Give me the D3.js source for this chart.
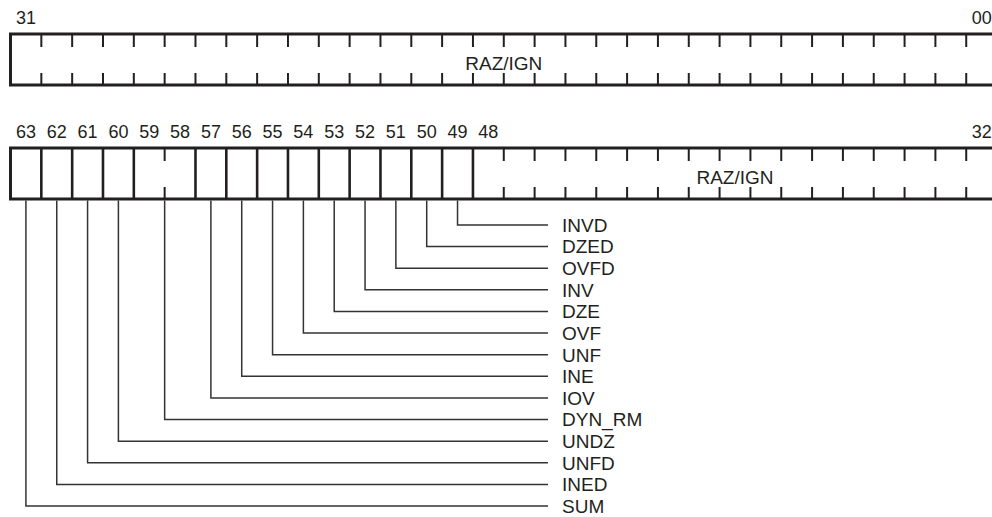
<!DOCTYPE html>
<html>
<head>
<meta charset="utf-8">
<script src="https://cdn.jsdelivr.net/npm/d3@7"></script>
<style>
  body { margin: 0; background: #fff; }
  text { font-family: "Liberation Sans", Arial, Helvetica, sans-serif; fill: #231f20; }
</style>
</head>
<body>
<svg id="reg" width="992" height="517"></svg>
<script>
// lower word, bits 31..0
let low_names = ["RAZ/IGN"];
let low_hi = [31];
let low_lo = [0];
let low_bit_labels = ["31", "00"];

// upper word, bits 63..32
let high_names = ["SUM", "INED", "UNFD", "UNDZ", "DYN_RM", "IOV", "INE", "UNF", "OVF", "DZE", "INV", "OVFD", "DZED", "INVD", "RAZ/IGN"];
let high_hi = [63, 62, 61, 60, 59, 57, 56, 55, 54, 53, 52, 51, 50, 49, 48];
let high_lo = [63, 62, 61, 60, 58, 57, 56, 55, 54, 53, 52, 51, 50, 49, 32];
let high_bit_labels = ["63", "62", "61", "60", "59", "58", "57", "56", "55", "54", "53", "52", "51", "50", "49", "48", "32"];

// order of the call-out labels, top to bottom
let leader_order = ["INVD", "DZED", "OVFD", "INV", "DZE", "OVF", "UNF", "INE", "IOV", "DYN_RM", "UNDZ", "UNFD", "INED", "SUM"];

let svg = d3.select("#reg");
let x0 = 10.5;
let bit_w = 30.83;
let box_h = 51;
let tick_len = 13;
let ink = "#231f20";

function drawRow(top, names, his, los, word_hi, word_lo, bit_labels) {
    let x = d3.scaleLinear()
      .domain([word_hi + 1, word_lo])
      .range([x0, x0 + (word_hi - word_lo + 1) * bit_w]);

    let g = svg.append("g");
    let fields = names.map(function(n, i) { return {name: n, hi: his[i], lo: los[i]}; });

    // bit numbers above the box
    g.selectAll("text.bitnum")
      .data(bit_labels)
      .enter().append("text")
        .attr("class", "bitnum")
        .attr("x", function(d) { let b = +d; return (x(b + 1) + x(b)) / 2; })
        .attr("y", top - 10)
        .attr("text-anchor", "middle")
        .style("font-size", "18px")
        .text(function(d) { return d; });

    // short ticks inside multi-bit fields
    let ticks = [];
    fields.forEach(function(f) {
        for (let b = f.lo + 1; b <= f.hi; b++) ticks.push(b);
    });
    g.selectAll("line.tick_top")
      .data(ticks)
      .enter().append("line")
        .attr("x1", function(d) { return x(d); })
        .attr("x2", function(d) { return x(d); })
        .attr("y1", top)
        .attr("y2", top + tick_len)
        .attr("stroke", ink)
        .attr("stroke-width", 2);
    g.selectAll("line.tick_bot")
      .data(ticks)
      .enter().append("line")
        .attr("x1", function(d) { return x(d); })
        .attr("x2", function(d) { return x(d); })
        .attr("y1", top + box_h - tick_len + 1)
        .attr("y2", top + box_h)
        .attr("stroke", ink)
        .attr("stroke-width", 2);

    // full dividers between fields
    g.selectAll("line.divider")
      .data(fields.slice(0, -1))
      .enter().append("line")
        .attr("x1", function(d) { return x(d.lo); })
        .attr("x2", function(d) { return x(d.lo); })
        .attr("y1", top)
        .attr("y2", top + box_h)
        .attr("stroke", ink)
        .attr("stroke-width", 2.6);

    // outer box
    g.append("rect")
      .attr("x", x(word_hi + 1))
      .attr("y", top)
      .attr("width", x(word_lo) - x(word_hi + 1))
      .attr("height", box_h)
      .attr("fill", "none")
      .attr("stroke", ink)
      .attr("stroke-width", 3);

    // names written inside the box
    g.selectAll("text.inside")
      .data(fields.filter(function(f) { return leader_order.indexOf(f.name) < 0; }))
      .enter().append("text")
        .attr("x", function(d) { return (x(d.hi + 1) + x(d.lo)) / 2; })
        .attr("y", top + 35.5)
        .attr("text-anchor", "middle")
        .style("font-size", "19px")
        .text(function(d) { return d.name; });

    // call-out leaders
    let ly = d3.scalePoint()
      .domain(leader_order)
      .range([225, 506]);
    let callouts = fields.filter(function(f) { return leader_order.indexOf(f.name) >= 0; });

    g.selectAll("path.leader")
      .data(callouts)
      .enter().append("path")
        .attr("d", function(d) {
            let xc = (x(d.hi + 1) + x(d.lo)) / 2;
            return "M" + xc + "," + (top + box_h + 1.5) + "V" + ly(d.name) + "H548";
        })
        .attr("fill", "none")
        .attr("stroke", "#333")
        .attr("stroke-width", 1.5);

    g.selectAll("text.callout")
      .data(callouts)
      .enter().append("text")
        .attr("x", 562)
        .attr("y", function(d) { return ly(d.name); })
        .attr("dy", "0.36em")
        .style("font-size", "19px")
        .text(function(d) { return d.name; });
}

drawRow(34, low_names, low_hi, low_lo, 31, 0, low_bit_labels);
drawRow(148, high_names, high_hi, high_lo, 63, 32, high_bit_labels);
</script>
</body>
</html>
